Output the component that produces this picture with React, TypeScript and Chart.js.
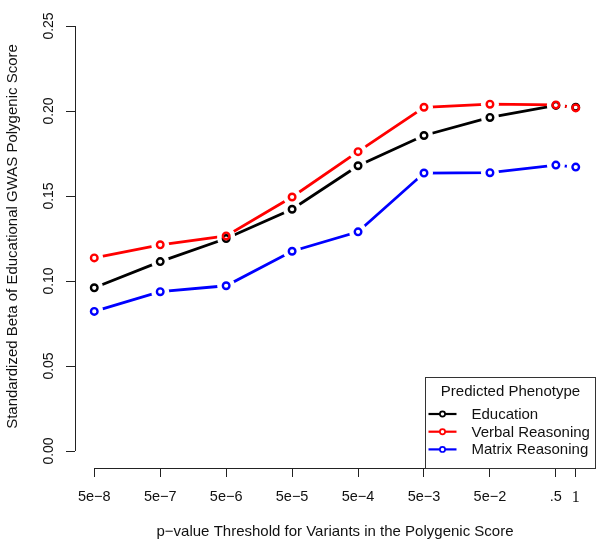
import React, { useEffect, useRef } from 'react';
import { Chart, registerables } from 'chart.js';

Chart.register(...registerables);

const thresholds = [5e-8, 5e-7, 5e-6, 5e-5, 5e-4, 5e-3, 5e-2, 0.5, 1];
const xTickLabels = ['5e\u22128', '5e\u22127', '5e\u22126', '5e\u22125', '5e\u22124', '5e\u22123', '5e\u22122', '.5', '1'];
const education = [0.096, 0.1114, 0.125, 0.1422, 0.1678, 0.1856, 0.1962, 0.2033, 0.2022];
const verbalReasoning = [0.1136, 0.1213, 0.1265, 0.1494, 0.1761, 0.2022, 0.204, 0.2036, 0.2018];
const matrixReasoning = [0.0821, 0.0937, 0.0972, 0.1175, 0.1289, 0.1635, 0.1637, 0.1682, 0.167];
const yTicks = [0, 0.05, 0.1, 0.15, 0.2, 0.25];
const yTickLabels = ['0.00', '0.05', '0.10', '0.15', '0.20', '0.25'];
const seriesNames = ['Education', 'Verbal Reasoning', 'Matrix Reasoning'];
const seriesColors = ['#000000', '#ff0000', '#0000ff'];
const legendTitle = 'Predicted Phenotype';
const xTitle = 'p\u2212value Threshold for Variants in the Polygenic Score';
const yTitle = 'Standardized Beta of Educational GWAS Polygenic Score';

const SANS = '"Liberation Sans", Arial, Helvetica, sans-serif';
const SERIF = '"Liberation Serif", "Times New Roman", serif';

const seriesValues = [education, verbalReasoning, matrixReasoning];
const logX = thresholds.map((t) => Math.log10(t));
const xRange = logX[logX.length - 1] - logX[0];
const xMin = logX[0] - 0.04 * xRange;
const xMax = logX[logX.length - 1] + 0.04 * xRange;
const yMin = yTicks[0] - 0.04 * (yTicks[yTicks.length - 1] - yTicks[0]);
const yMax = yTicks[yTicks.length - 1] + 0.04 * (yTicks[yTicks.length - 1] - yTicks[0]);

const decorPlugin = {
  id: 'decor',
  afterDraw(chart: any) {
    const { ctx, chartArea, scales } = chart;
    const xs = scales.x;
    const ys = scales.y;
    ctx.save();
    ctx.strokeStyle = '#222';
    ctx.lineWidth = 1;
    const ax = Math.round(chartArea.left) + 0.5;
    ctx.beginPath();
    ctx.moveTo(ax, ys.getPixelForValue(yTicks[0]));
    ctx.lineTo(ax, ys.getPixelForValue(yTicks[yTicks.length - 1]));
    ctx.stroke();
    const ay = Math.round(chartArea.bottom) + 0.5;
    ctx.beginPath();
    ctx.moveTo(xs.getPixelForValue(logX[0]), ay);
    ctx.lineTo(xs.getPixelForValue(logX[logX.length - 1]), ay);
    ctx.stroke();

    ctx.fillStyle = '#111';
    ctx.font = '14px ' + SANS;
    ctx.textAlign = 'center';
    ctx.textBaseline = 'alphabetic';
    yTicks.forEach((v, i) => {
      ctx.save();
      ctx.translate(chartArea.left - 21.7, ys.getPixelForValue(v));
      ctx.rotate(-Math.PI / 2);
      ctx.fillText(yTickLabels[i], 0, 0);
      ctx.restore();
    });
    ctx.font = '15px ' + SANS;
    ctx.save();
    ctx.translate(chartArea.left - 57.7, (chartArea.top + chartArea.bottom) / 2 - 2);
    ctx.rotate(-Math.PI / 2);
    ctx.fillText(yTitle, 0, 0);
    ctx.restore();
    ctx.fillText(xTitle, (chartArea.left + chartArea.right) / 2, chartArea.bottom + 68);

    // legend
    const bx = Math.round(chartArea.right - 170) + 0.5;
    const by = Math.round(chartArea.bottom - 91) + 0.5;
    const bw = 170;
    const bh = 91;
    ctx.fillStyle = '#fff';
    ctx.fillRect(bx, by, bw, bh);
    ctx.strokeStyle = '#333';
    ctx.strokeRect(bx, by, bw, bh);
    ctx.fillStyle = '#111';
    ctx.textAlign = 'center';
    ctx.fillText(legendTitle, bx + bw / 2, by + 18.5);
    seriesNames.forEach((name, i) => {
      const baseY = by + 41.5 + i * 17.7;
      const cy = baseY - 5;
      ctx.strokeStyle = seriesColors[i];
      ctx.lineWidth = 2.2;
      ctx.beginPath();
      ctx.moveTo(bx + 3, cy);
      ctx.lineTo(bx + 31, cy);
      ctx.stroke();
      ctx.fillStyle = '#fff';
      ctx.lineWidth = 1.7;
      ctx.beginPath();
      ctx.arc(bx + 17, cy, 2.6, 0, Math.PI * 2);
      ctx.fill();
      ctx.stroke();
      ctx.fillStyle = '#111';
      ctx.textAlign = 'left';
      ctx.fillText(name, bx + 46, baseY);
    });
    ctx.restore();
  },
};

export default function App() {
  const ref = useRef<HTMLCanvasElement>(null);
  useEffect(() => {
    const pts = seriesValues.map((vals) => vals.map((v, i) => ({ x: logX[i], y: v })));
    const datasets: any[] = [];
    pts.forEach((p, i) => {
      datasets.push({
        label: seriesNames[i],
        data: p,
        borderColor: seriesColors[i],
        borderWidth: 2.8,
        pointRadius: 0,
        fill: false,
        tension: 0,
        order: 9 - i,
      });
    });
    pts.forEach((p, i) => {
      datasets.push({
        label: seriesNames[i] + ' gap',
        data: p,
        showLine: false,
        pointRadius: 9,
        pointBackgroundColor: '#ffffff',
        pointBorderColor: '#ffffff',
        pointBorderWidth: 0,
        order: 6 - i,
      });
    });
    pts.forEach((p, i) => {
      datasets.push({
        label: seriesNames[i] + ' points',
        data: p,
        showLine: false,
        pointRadius: 3.3,
        pointBorderWidth: 2.4,
        pointBorderColor: seriesColors[i],
        pointBackgroundColor: 'rgba(0,0,0,0)',
        order: 3 - i,
      });
    });

    const chart = new Chart(ref.current as HTMLCanvasElement, {
      type: 'line',
      data: { datasets },
      plugins: [decorPlugin],
      options: {
        animation: false,
        responsive: true,
        maintainAspectRatio: false,
        events: [],
        layout: { padding: { left: 0, top: 3, right: 8, bottom: 0 } },
        plugins: {
          legend: { display: false },
          tooltip: { enabled: false },
        },
        scales: {
          x: {
            type: 'linear',
            min: xMin,
            max: xMax,
            bounds: 'data',
            afterBuildTicks: (s: any) => {
              s.ticks = logX.map((v) => ({ value: v }));
            },
            afterFit: (s: any) => {
              s.height = 78;
            },
            border: { display: false },
            grid: {
              drawOnChartArea: false,
              drawTicks: true,
              tickLength: 9,
              tickColor: '#222',
              tickWidth: 1,
            },
            ticks: {
              autoSkip: false,
              maxRotation: 0,
              minRotation: 0,
              padding: 11,
              color: '#111',
              font: (c: any) =>
                c.index === thresholds.length - 1
                  ? { family: SERIF, size: 16 }
                  : { family: SANS, size: 14.5 },
              callback: (_v: any, i: number) => xTickLabels[i],
            },
          },
          y: {
            type: 'linear',
            min: yMin,
            max: yMax,
            bounds: 'data',
            afterBuildTicks: (s: any) => {
              s.ticks = yTicks.map((v) => ({ value: v }));
            },
            afterFit: (s: any) => {
              s.width = 75;
            },
            border: { display: false },
            grid: {
              drawOnChartArea: false,
              drawTicks: true,
              tickLength: 9,
              tickColor: '#222',
              tickWidth: 1,
            },
            ticks: { display: false },
          },
        },
      } as any,
    });
    return () => chart.destroy();
  }, []);
  return (
    <div style={{ position: 'fixed', left: 0, top: 0, width: 604, height: 546, background: '#fff' }}>
      <canvas ref={ref} />
    </div>
  );
}
